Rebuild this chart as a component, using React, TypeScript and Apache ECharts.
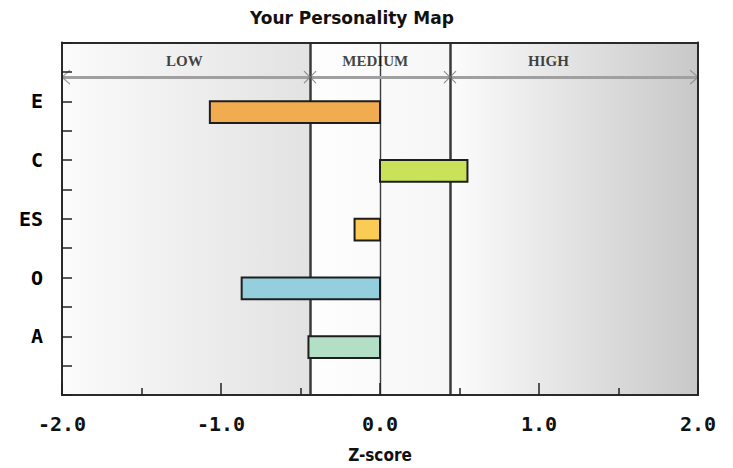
import React, { useEffect, useRef } from "react";
import * as echarts from "echarts";

const categories = ["E", "C", "ES", "O", "A"];
const scores = [-1.07, 0.55, -0.16, -0.87, -0.45];
const barColors = ["#F2AC50", "#C9E25A", "#FACB55", "#93CFDC", "#B4DFC7"];
const xTicks = [-2, -1, 0, 1, 2];
const cutoffs = [-0.44, 0.44];
const bandNames = ["LOW", "MEDIUM", "HIGH"];
const bandLabelX = [-1.23, -0.03, 1.06];
const bandLabelY = 5.68;
const arrowY = 5.41;
const barThickness = 0.37;

export default function App() {
  const ref = useRef<HTMLDivElement>(null);
  useEffect(() => {
    if (!ref.current) return;
    const chart = echarts.init(ref.current, undefined, { renderer: "svg" });
    const n = categories.length;
    const yMax = n + 1;
    const catAt = (v: number) => {
      const i = n - v;
      return Number.isInteger(v) && i >= 0 && i < n ? categories[i] : "";
    };
    const grad = (a: string, b: string) =>
      new echarts.graphic.LinearGradient(0, 0, 1, 0, [
        { offset: 0, color: a },
        { offset: 1, color: b },
      ]);
    const xMin = xTicks[0];
    const xMax = xTicks[xTicks.length - 1];
    const barData = categories.map((c, i) => ({
      value: [scores[i], n - i],
      itemStyle: { color: barColors[i] },
    }));
    const frameLine = { show: true, onZero: false, lineStyle: { color: "#2a2a2a", width: 2 } };

    const option: any = {
      animation: false,
      backgroundColor: "#ffffff",
      title: {
        text: "Your Personality Map",
        left: 245,
        top: 4,
        textStyle: {
          fontFamily: "DejaVu Sans",
          fontWeight: "bold",
          fontSize: 17,
          color: "#111",
        },
      },
      grid: { left: 62, right: 35, top: 42.5, bottom: 72, show: false },
      xAxis: [
        {
          type: "value",
          position: "bottom",
          min: xMin,
          max: xMax,
          interval: 1,
          z: 10,
          axisLine: frameLine,
          axisTick: { show: true, inside: true, length: 12, lineStyle: { color: "#222", width: 1.5 } },
          minorTick: { show: true, splitNumber: 2, length: 7, lineStyle: { color: "#222", width: 1.5 } },
          splitLine: { show: false },
          axisLabel: {
            formatter: (v: number) => v.toFixed(1),
            fontFamily: "DejaVu Sans Mono",
            fontWeight: "bold",
            fontSize: 20,
            color: "#111",
            margin: 19,
          },
          name: "Z-score",
          nameLocation: "middle",
          nameGap: 51,
          nameTextStyle: {
            fontFamily: "DejaVu Sans Condensed",
            fontWeight: "bold",
            fontSize: 17,
            color: "#111",
          },
        },
        {
          type: "value",
          position: "top",
          min: xMin,
          max: xMax,
          z: 10,
          axisLine: frameLine,
          axisTick: { show: false },
          axisLabel: { show: false },
          splitLine: { show: false },
        },
      ],
      yAxis: [
        {
          type: "value",
          position: "left",
          min: 0,
          max: yMax,
          interval: 0.5,
          z: 10,
          axisLine: frameLine,
          axisTick: { show: true, inside: true, length: 10, lineStyle: { color: "#222", width: 1.5 } },
          splitLine: { show: false },
          axisLabel: {
            formatter: (v: number) => catAt(v),
            fontFamily: "DejaVu Sans Mono",
            fontWeight: "bold",
            fontSize: 20,
            color: "#000",
            margin: 19,
          },
        },
        {
          type: "value",
          position: "right",
          min: 0,
          max: yMax,
          z: 10,
          axisLine: frameLine,
          axisTick: { show: false },
          axisLabel: { show: false },
          splitLine: { show: false },
        },
      ],
      series: [
        {
          type: "line",
          data: [],
          z: 1,
          silent: true,
          markArea: {
            silent: true,
            data: [
              [
                { xAxis: xMin, yAxis: 0, itemStyle: { color: grad("#fbfbfb", "#e2e2e2") } },
                { xAxis: cutoffs[0], yAxis: yMax },
              ],
              [
                { xAxis: cutoffs[0], yAxis: 0, itemStyle: { color: grad("#fefefe", "#f6f6f6") } },
                { xAxis: cutoffs[1], yAxis: yMax },
              ],
              [
                { xAxis: cutoffs[1], yAxis: 0, itemStyle: { color: grad("#fcfcfc", "#c8c8c8") } },
                { xAxis: xMax, yAxis: yMax },
              ],
            ],
          },
          markLine: {
            silent: true,
            symbol: "none",
            label: { show: false },
            data: [
              { xAxis: 0, lineStyle: { color: "#3c3c3c", width: 1.4, type: "solid" } },
              [
                { coord: [xMin, arrowY], lineStyle: { color: "#a0a0a0", width: 3, type: "solid" } },
                { coord: [xMax, arrowY] },
              ],
              ...cutoffs.map((c) => ({ xAxis: c, lineStyle: { color: "#3a3a3a", width: 2.5, type: "solid" } })),
            ],
          },
        },
        {
          type: "scatter",
          z: 6,
          silent: true,
          data: cutoffs.map((c) => [c, arrowY]),
          symbol: "path://M0,0L10,10M10,0L0,10",
          symbolSize: 12,
          itemStyle: { color: "transparent", borderColor: "#777", borderWidth: 1.2 },
        },
        {
          type: "scatter",
          z: 6,
          silent: true,
          data: [
            { value: [xMin, arrowY], symbol: "path://M10,0L0,10L10,20", symbolOffset: [4, 0] },
            { value: [xMax, arrowY], symbol: "path://M0,0L10,10L0,20", symbolOffset: [-4, 0] },
          ],
          symbolSize: [8, 14],
          itemStyle: { color: "transparent", borderColor: "#8a8a8a", borderWidth: 1.2 },
        },
        {
          type: "scatter",
          z: 6,
          silent: true,
          symbolSize: 0,
          data: bandNames.map((name, i) => ({ name, value: [bandLabelX[i], bandLabelY] })),
          label: {
            show: true,
            position: "inside",
            formatter: (p: any) => p.name,
            fontFamily: "Liberation Serif",
            fontWeight: "bold",
            fontSize: 15,
            color: "#111",
          },
        },
        {
          type: "custom",
          z: 5,
          data: barData,
          renderItem: (params: any, api: any) => {
            const v = api.value(0);
            const y = api.value(1);
            const p0 = api.coord([0, y]);
            const p1 = api.coord([v, y - barThickness]);
            const idx = params.dataIndex;
            return {
              type: "rect",
              shape: {
                x: Math.min(p0[0], p1[0]),
                y: p0[1],
                width: Math.abs(p1[0] - p0[0]),
                height: p1[1] - p0[1],
              },
              style: { fill: barColors[idx], stroke: "#1e1e1e", lineWidth: 2 },
            };
          },
        },
      ],
    };
    chart.setOption(option);
    return () => chart.dispose();
  }, []);
  return (
    <div
      ref={ref}
      style={{ position: "fixed", left: 0, top: 0, width: 733, height: 468 }}
    />
  );
}
